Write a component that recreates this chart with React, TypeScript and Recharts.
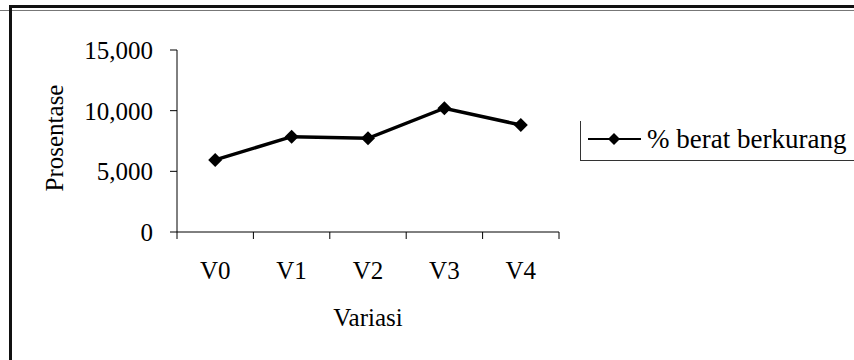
import React from 'react'
import { LineChart, Line, XAxis, YAxis, Legend } from 'recharts'

const categories = ['V0', 'V1', 'V2', 'V3', 'V4']
const values = [5.94, 7.86, 7.72, 10.2, 8.82]
const yTicks = [0, 5, 10, 15]
const seriesName = '% berat berkurang'

const data = categories.map((name, i) => ({ name, pos: i + 0.5, value: values[i] }))
const boundaryTicks = [0, ...categories.map((_, i) => i + 1)]
const labelTicks = categories.map((_, i) => i + 0.5)

const FONT = '"Liberation Serif", "Times New Roman", serif'
const fmt = (v: number) => (v === 0 ? '0' : v.toFixed(3).replace('.', ','))

const Diamond = (props: any) => {
  const { cx, cy, index } = props
  if (cx == null || cy == null) return null
  const r = 7
  return <path key={index} d={`M${cx},${cy - r}L${cx + r},${cy}L${cx},${cy + r}L${cx - r},${cy}Z`} fill="#000" />
}

const YLabel = (props: any) => {
  const vb = props.viewBox || { x: 0, y: 50, width: 177, height: 182 }
  const x = vb.x + 54
  const y = vb.y + vb.height / 2 - 3
  return (
    <text x={x} y={y} transform={`rotate(-90, ${x}, ${y})`} textAnchor="middle" dominantBaseline="central"
      fontFamily={FONT} fontSize={25} fill="#000">Prosentase</text>
  )
}

const renderLegend = () => (
  <div style={{ height: 39, borderLeft: '1px solid #333', borderBottom: '1px solid #333', display: 'flex', alignItems: 'center', fontFamily: FONT, fontSize: 27, color: '#000', whiteSpace: 'nowrap' }}>
    <svg width={66} height={40} style={{ display: 'block' }}>
      <line x1={7} y1={18} x2={60} y2={18} stroke="#000" strokeWidth={2} />
      <path d="M33,12L39,18L33,24L27,18Z" fill="#000" />
    </svg>
    <span style={{ marginTop: -2 }}>{seriesName}</span>
  </div>
)

export default function App() {
  return (
    <div style={{ position: 'absolute', left: 0, top: 0, width: 854, height: 360, background: '#fff', overflow: 'hidden' }}>
      <div style={{ position: 'absolute', left: 0, top: 10, width: 854, height: 1, background: '#777' }} />
      <div style={{ position: 'absolute', left: 9, top: 5, width: 900, height: 400, borderTop: '3px solid #111', borderLeft: '3px solid #111' }} />
      <div style={{ position: 'absolute', left: 0, top: 0 }}>
        <LineChart width={854} height={360} data={data} margin={{ top: 50, right: 295, bottom: 0, left: 0 }}>
          <YAxis
            width={177}
            domain={[0, 15]}
            ticks={yTicks}
            tickFormatter={fmt}
            tickSize={7}
            tickMargin={17}
            axisLine={{ stroke: '#000' }}
            tickLine={{ stroke: '#000' }}
            tick={{ fill: '#000', fontSize: 25, fontFamily: FONT }}
            label={{ content: <YLabel /> }}
          />
          <XAxis
            xAxisId="grid"
            type="number"
            dataKey="pos"
            domain={[0, 5]}
            ticks={boundaryTicks}
            tickFormatter={() => ''}
            tickSize={7}
            height={10}
            axisLine={{ stroke: '#000' }}
            tickLine={{ stroke: '#000' }}
          />
          <XAxis
            xAxisId="labels"
            type="number"
            dataKey="pos"
            domain={[0, 5]}
            ticks={labelTicks}
            tickFormatter={(v: number) => categories[Math.round(v - 0.5)]}
            tickSize={0}
            tickMargin={19}
            height={118}
            axisLine={false}
            tickLine={false}
            tick={{ fill: '#000', fontSize: 25, fontFamily: FONT }}
            label={{ value: 'Variasi', position: 'insideTop', offset: 66, fill: '#000', fontSize: 25, fontFamily: FONT }}
          />
          <Legend
            content={renderLegend}
            layout="horizontal"
            verticalAlign="middle"
            align="center"
            wrapperStyle={{ left: 580, top: 121, width: 274, height: 40 }}
          />
          <Line
            xAxisId="grid"
            dataKey="value"
            name={seriesName}
            stroke="#000"
            strokeWidth={3.5}
            dot={<Diamond />}
            activeDot={false}
            isAnimationActive={false}
          />
        </LineChart>
      </div>
    </div>
  )
}
